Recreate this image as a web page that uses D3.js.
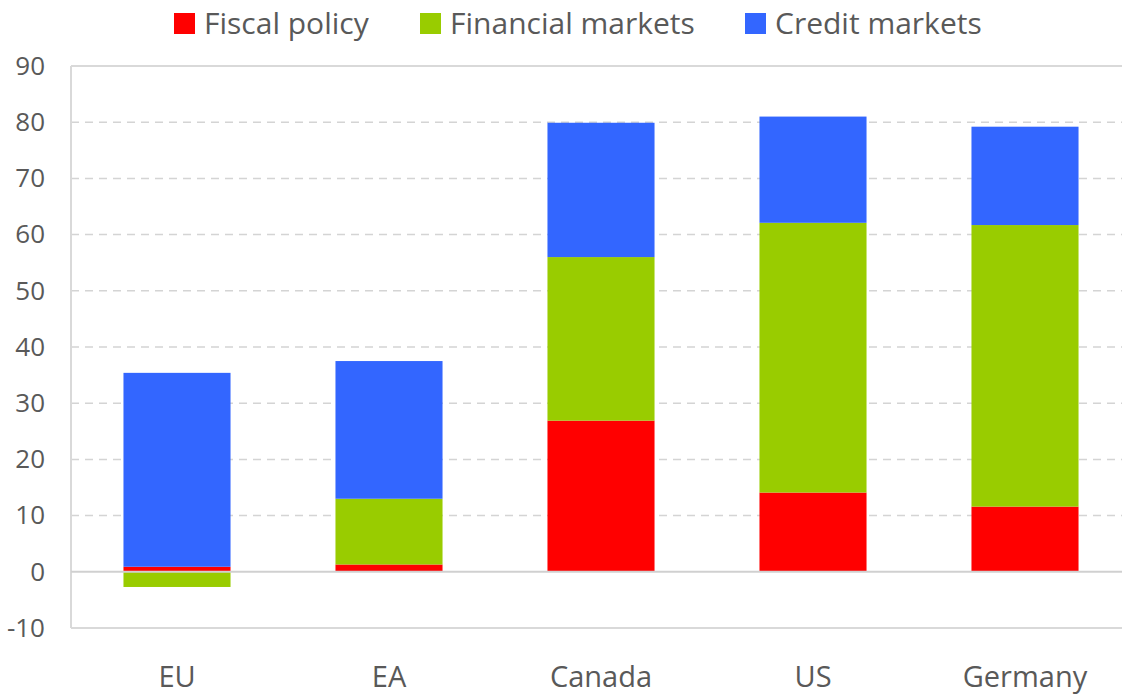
<!DOCTYPE html>
<html lang="en">
<head>
<meta charset="UTF-8">
<title>Stacked contributions</title>
<script src="https://d3js.org/d3.v7.min.js"></script>
<style>
    body { margin: 0; background: #fff; overflow: hidden; }
    svg text { font-family: "Open Sans", sans-serif; fill: #595959; }
</style>
</head>
<body>
<div id="chart"></div>
<script>
// data
var countries = ["EU", "EA", "Canada", "US", "Germany"];
var fiscal    = [0.9, 1.3, 26.9, 14.1, 11.6];
var financial = [-2.7, 11.7, 29.1, 48.0, 50.1];
var credit    = [34.5, 24.5, 23.9, 18.9, 17.5];
var seriesNames  = ["Fiscal policy", "Financial markets", "Credit markets"];
var seriesColors = ["#ff0000", "#99cc00", "#3366ff"];
var yTicks = [-10, 0, 10, 20, 30, 40, 50, 60, 70, 80, 90];

var width = 1122, height = 698;
var plotLeft = 71, plotRight = 1131, plotTop = 66, plotBottom = 628;

var rows = countries.map(function(c, i) {
    return { country: c, fiscal: fiscal[i], financial: financial[i], credit: credit[i] };
});
var keys = ["fiscal", "financial", "credit"];

var svg = d3.select("#chart").append("svg")
    .attr("width", width)
    .attr("height", height)
    .style("display", "block");

var x = d3.scaleBand()
    .domain(countries)
    .range([plotLeft, plotRight])
    .paddingInner(0.495)
    .paddingOuter(0.2475);

var y = d3.scaleLinear()
    .domain([-10, 90])
    .range([plotBottom, plotTop]);

// dashed gridlines
svg.append("g")
    .selectAll("line")
    .data(yTicks.filter(function(d) { return d > 0 && d < 90; }))
    .enter().append("line")
    .attr("x1", plotLeft).attr("x2", width)
    .attr("y1", function(d) { return y(d); })
    .attr("y2", function(d) { return y(d); })
    .attr("stroke", "#d4d4d4")
    .attr("stroke-width", 1.5)
    .attr("stroke-dasharray", "8,6");

// frame (right side runs off the picture)
var frame = [[plotLeft, plotTop, width, plotTop],
             [plotLeft, plotTop, plotLeft, plotBottom],
             [plotLeft, plotBottom, width, plotBottom]];
svg.append("g")
    .selectAll("line")
    .data(frame)
    .enter().append("line")
    .attr("x1", function(d) { return d[0]; })
    .attr("y1", function(d) { return d[1]; })
    .attr("x2", function(d) { return d[2]; })
    .attr("y2", function(d) { return d[3]; })
    .attr("stroke", "#d9d9d9")
    .attr("stroke-width", 2);

// bars
var stacked = d3.stack().keys(keys).offset(d3.stackOffsetDiverging)(rows);

svg.append("g")
    .selectAll("g")
    .data(stacked)
    .enter().append("g")
    .attr("fill", function(d, i) { return seriesColors[i]; })
    .selectAll("rect")
    .data(function(d) { return d; })
    .enter().append("rect")
    .attr("x", function(d) { return x(d.data.country); })
    .attr("width", x.bandwidth())
    .attr("y", function(d) { return y(Math.max(d[0], d[1])); })
    .attr("height", function(d) { return Math.abs(y(d[0]) - y(d[1])); });

// zero line
svg.append("line")
    .attr("x1", plotLeft).attr("x2", width)
    .attr("y1", y(0)).attr("y2", y(0))
    .attr("stroke", "#d0d0d0")
    .attr("stroke-width", 2);

// y axis
var yAxis = svg.append("g")
    .attr("transform", "translate(" + plotLeft + ",0)")
    .call(d3.axisLeft(y).tickValues(yTicks).tickSize(0).tickPadding(26)
        .tickFormat(function(d) { return String(d); }));
yAxis.select(".domain").remove();
yAxis.selectAll("text").style("font-size", "26px").attr("fill", "#595959");

// x axis labels
var xAxis = svg.append("g")
    .attr("transform", "translate(0," + plotBottom + ")")
    .call(d3.axisBottom(x).tickSize(0).tickPadding(38));
xAxis.select(".domain").remove();
xAxis.selectAll("text").style("font-size", "29px").attr("fill", "#595959");

// legend
var legendX = [174, 420, 745];
var legend = svg.append("g")
    .selectAll("g")
    .data(seriesNames)
    .enter().append("g")
    .attr("transform", function(d, i) { return "translate(" + legendX[i] + ",13)"; });

legend.append("rect")
    .attr("width", 21).attr("height", 21)
    .attr("fill", function(d, i) { return seriesColors[i]; });

legend.append("text")
    .attr("x", 30).attr("y", 21)
    .style("font-size", "30px")
    .text(function(d) { return d; });
</script>
</body>
</html>
